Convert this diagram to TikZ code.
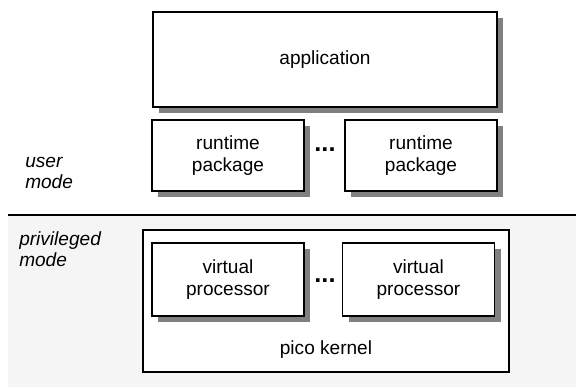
\documentclass[tikz,border=0pt]{standalone}
\usepackage{fontspec}
\setmainfont{Liberation Sans}
\usetikzlibrary{shadows}

\begin{document}
\begin{tikzpicture}[x=0.75pt,y=0.75pt,yscale=-1,xscale=1,
    box/.style={draw,fill=white,line width=0.9pt,align=center,inner sep=0pt,font=\fontsize{14.3}{16}\selectfont},
    shadowbox/.style={box,drop shadow={shadow xshift=4.5pt,shadow yshift=-4.5pt,fill=black!50,opacity=1}},
    dots/.style={inner sep=0pt,font=\fontsize{19}{20}\selectfont\bfseries},
    modelabel/.style={anchor=north west,inner sep=0pt,align=left,font=\fontsize{14.3}{16}\selectfont\itshape}]
    \useasboundingbox (0,0) rectangle (576,387);

    % privileged area
    \fill [color=black!4] (8,215) rectangle (576,387);
    \draw [line width=0.9pt] (8,215) -- (576,215);

    % user mode
    \node (app) [shadowbox, minimum width=258pt, minimum height=71.25pt] at (325,59.5) {application};
    \node (rt1) [shadowbox, minimum width=114pt, minimum height=53.25pt] at (228,155.5) {runtime\\package};
    \node (rt2) [shadowbox, minimum width=114pt, minimum height=53.25pt] at (421,155.5) {runtime\\package};
    \node (rtdots) [dots] at (325,150) {...};
    \draw (25,157) node (user) [modelabel] {user\\mode};

    % privileged mode
    \node (kernel) [box, minimum width=274.5pt, minimum height=106.5pt] at (326,301) {};
    \node (vp1) [shadowbox, minimum width=114pt, minimum height=54.75pt] at (228,279.5) {virtual\\processor};
    \node (vp2) [shadowbox, minimum width=114pt, minimum height=54.75pt] at (418.5,279.5) {virtual\\processor};
    \node (vpdots) [dots] at (325,281) {...};
    \node (kerneltext) [inner sep=0pt, font=\fontsize{14.3}{16}\selectfont] at (326,350) {pico kernel};
    \draw (19,231) node (priv) [modelabel] {privileged\\mode};
\end{tikzpicture}
\end{document}
